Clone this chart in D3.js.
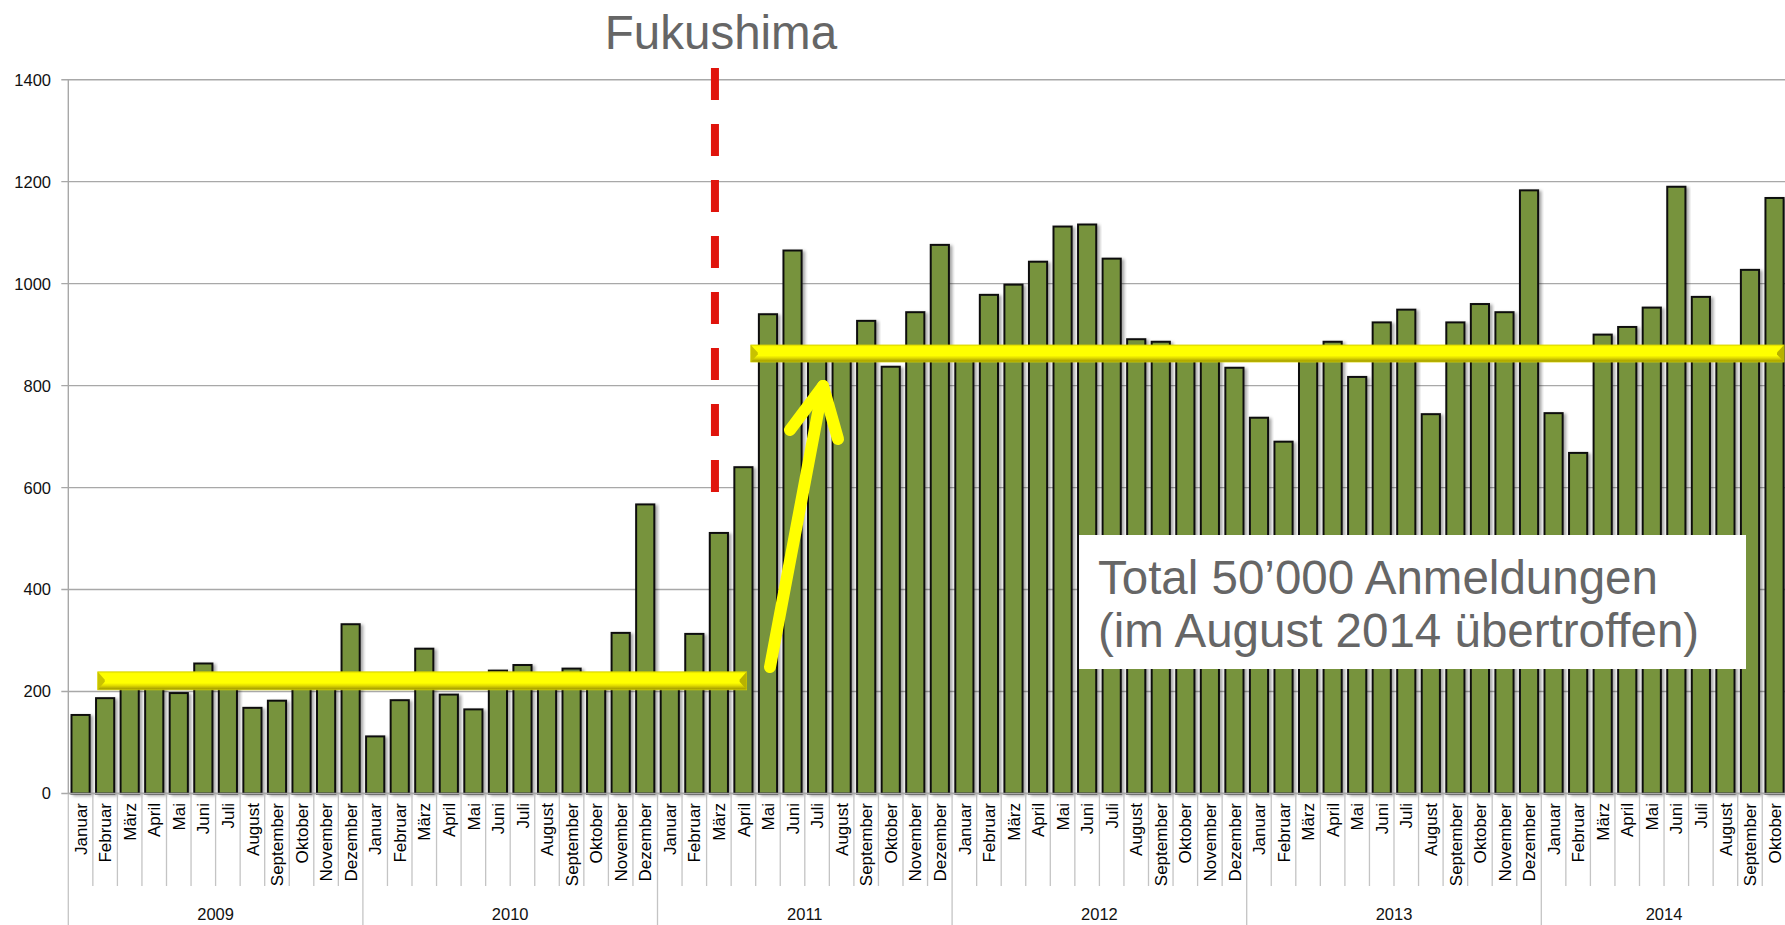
<!DOCTYPE html>
<html>
<head>
<meta charset="utf-8">
<script src="https://cdn.jsdelivr.net/npm/d3@7"></script>
<style>
  html, body { margin: 0; padding: 0; background: #fff; overflow: hidden; }
  svg { display: block; }
</style>
</head>
<body>
<svg id="chart" width="1785" height="925"></svg>
<script>
// ---------------- data ----------------
const years = ["2009", "2010", "2011", "2012", "2013", "2014"];
const monthNames = ["Januar", "Februar", "März", "April", "Mai", "Juni", "Juli",
  "August", "September", "Oktober", "November", "Dezember"];
const values2009 = [154, 187, 215, 215, 197, 255, 225, 168, 182, 210, 215, 332];
const values2010 = [112, 183, 284, 194, 165, 241, 252, 230, 245, 220, 315, 567];
const values2011 = [235, 313, 511, 640, 940, 1065, 860, 870, 927, 837, 944, 1076];
const values2012 = [865, 978, 998, 1043, 1112, 1116, 1049, 891, 886, 870, 855, 835];
const values2013 = [737, 690, 870, 886, 817, 924, 949, 744, 924, 960, 944, 1183];
const values2014 = [746, 668, 900, 915, 953, 1190, 974, 860, 1027, 1168];
const yTicks = [0, 200, 400, 600, 800, 1000, 1200, 1400];
const lowLevel = 221;    // yellow level before Fukushima
const highLevel = 863;   // yellow level after Fukushima
const eventLabel = "Fukushima";
const boxLines = ["Total 50’000 Anmeldungen", "(im August 2014 übertroffen)"];

const yearValues = [values2009, values2010, values2011, values2012, values2013, values2014];
const data = [];
yearValues.forEach((vals, yi) => vals.forEach((v, mi) => {
  data.push({ id: years[yi] + "-" + mi, year: years[yi], month: monthNames[mi], value: v });
}));

// ---------------- layout ----------------
const svg = d3.select("#chart");
const x0 = 68.3, step = 24.55;
const yBase = 793.5, yTop = 79.7;
const x = d3.scaleBand().domain(data.map(d => d.id))
  .range([x0, x0 + step * data.length]).paddingInner(0.26).paddingOuter(0.13);
const y = d3.scaleLinear().domain([0, 1400]).range([yBase, yTop]);
const xAt = idx => x0 + idx * x.step();

const defs = svg.append("defs");
const f = defs.append("filter").attr("id", "shadow").attr("x", "-20%").attr("y", "-5%")
  .attr("width", "150%").attr("height", "115%");
f.append("feDropShadow").attr("dx", 2.5).attr("dy", 1.5).attr("stdDeviation", 1.6)
  .attr("flood-color", "#000").attr("flood-opacity", 0.35);
const g1 = defs.append("linearGradient").attr("id", "ybar").attr("x1", 0).attr("y1", 0).attr("x2", 0).attr("y2", 1);
[[0, "#e6e200"], [0.1, "#ffff00"], [0.62, "#ffff00"], [0.76, "#e2dc00"], [0.88, "#bdb600"], [1, "#958e00"]]
  .forEach(([o, c]) => g1.append("stop").attr("offset", o).attr("stop-color", c));

// gridlines
svg.append("g").selectAll("line").data(yTicks).join("line")
  .attr("x1", x0 - 7).attr("x2", 1785)
  .attr("y1", d => y(d)).attr("y2", d => y(d))
  .attr("stroke", "#a8a8a8").attr("stroke-width", 1.4);

// y axis line
svg.append("line").attr("x1", x0).attr("x2", x0).attr("y1", yTop).attr("y2", yBase)
  .attr("stroke", "#a8a8a8").attr("stroke-width", 1.4);

// y tick labels
svg.append("g").selectAll("text").data(yTicks).join("text")
  .attr("x", 51).attr("y", d => y(d)).attr("dy", "0.36em")
  .attr("text-anchor", "end")
  .attr("font-family", "Liberation Sans, Arial, sans-serif").attr("font-size", 16.5)
  .attr("fill", "#111").text(d => d);

// bars
svg.append("g").selectAll("rect").data(data).join("rect")
  .attr("x", d => x(d.id)).attr("width", x.bandwidth())
  .attr("y", d => y(d.value)).attr("height", d => y(0) - y(d.value))
  .attr("fill", "#77933c").attr("stroke", "#111").attr("stroke-width", 2)
  .attr("filter", "url(#shadow)");

// month separators
const sepIdx = d3.range(0, data.length + 1);
svg.append("g").selectAll("line").data(sepIdx.filter(i => i % 12 !== 0)).join("line")
  .attr("x1", i => xAt(i)).attr("x2", i => xAt(i))
  .attr("y1", yBase).attr("y2", 886)
  .attr("stroke", "#c4c4c4").attr("stroke-width", 1.3);
// year separators
svg.append("g").selectAll("line").data(sepIdx.filter(i => i % 12 === 0)).join("line")
  .attr("x1", i => xAt(i)).attr("x2", i => xAt(i))
  .attr("y1", yBase).attr("y2", 925)
  .attr("stroke", "#c4c4c4").attr("stroke-width", 1.3);
// baseline
svg.append("line").attr("x1", x0).attr("x2", 1785).attr("y1", yBase).attr("y2", yBase)
  .attr("stroke", "#a8a8a8").attr("stroke-width", 1.4);

// month labels
svg.append("g").selectAll("text").data(data).join("text")
  .attr("transform", d => `translate(${x(d.id) + x.bandwidth() / 2},803) rotate(-90)`)
  .attr("dy", "0.36em").attr("text-anchor", "end")
  .attr("font-family", "Liberation Sans, Arial, sans-serif").attr("font-size", 17)
  .attr("fill", "#000").text(d => d.month);

// year labels
svg.append("g").selectAll("text").data(years).join("text")
  .attr("x", (d, i) => {
    const n = yearValues[i].length;
    return (xAt(i * 12) + xAt(i * 12 + n)) / 2;
  })
  .attr("y", 920).attr("text-anchor", "middle")
  .attr("font-family", "Liberation Sans, Arial, sans-serif").attr("font-size", 16.5)
  .attr("fill", "#111").text(d => d);

// yellow level bars with bevelled ends
function levelBar(xa, xb, level, h) {
  const yc = y(level), t = yc - h / 2, b = yc + h / 2, bev = 7;
  const gg = svg.append("g");
  gg.append("rect").attr("x", xa).attr("y", t).attr("width", xb - xa).attr("height", h)
    .attr("fill", "url(#ybar)").attr("stroke", "#d8d400").attr("stroke-width", 0.8);
  gg.append("path").attr("d", `M${xa},${t} L${xa + bev},${yc - 1} L${xa + bev},${yc + 1} L${xa},${b} Z`)
    .attr("fill", "#c8c200");
  gg.append("path").attr("d", `M${xb},${t} L${xb - bev},${yc - 1} L${xb - bev},${yc + 1} L${xb},${b} Z`)
    .attr("fill", "#b8b200");
}
levelBar(xAt(1.2), xAt(27.63), lowLevel, 18);
levelBar(xAt(27.8), 1784, highLevel, 17);

// Fukushima dashed line
const xf = xAt(26.34);
svg.append("line").attr("x1", xf).attr("x2", xf).attr("y1", 68).attr("y2", 492)
  .attr("stroke", "#e0140c").attr("stroke-width", 8).attr("stroke-dasharray", "32 24");
svg.append("text").attr("x", xf + 6).attr("y", 49).attr("text-anchor", "middle")
  .attr("font-family", "Liberation Sans, Arial, sans-serif").attr("font-size", 47.5)
  .attr("fill", "#666").text(eventLabel);

// yellow arrow
const arrow = svg.append("g").attr("fill", "none").attr("stroke", "#ffff00")
  .attr("stroke-width", 12).attr("stroke-linecap", "round").attr("stroke-linejoin", "round");
arrow.append("path").attr("d", "M770,667 L823,386");
arrow.append("path").attr("d", "M790,430 L823,386 L838,439");

// text box
svg.append("rect").attr("x", 1079).attr("y", 535).attr("width", 667).attr("height", 134)
  .attr("fill", "#fff");
svg.append("g").selectAll("text").data(boxLines).join("text")
  .attr("x", 1098).attr("y", (d, i) => 594 + i * 53)
  .attr("font-family", "Liberation Sans, Arial, sans-serif").attr("font-size", 47.5)
  .attr("fill", "#666").text(d => d);
</script>
</body>
</html>
